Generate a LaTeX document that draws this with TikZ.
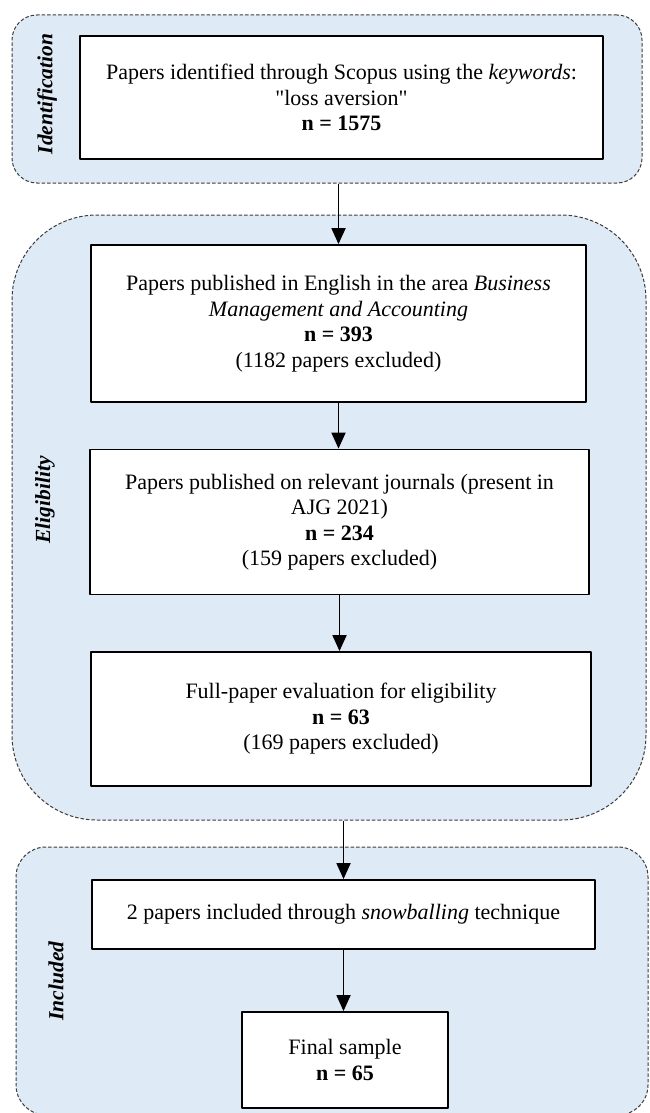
\documentclass[tikz,border=0pt]{standalone}
\usepackage{fontspec}
\setmainfont{Liberation Serif}
\usetikzlibrary{arrows.meta}
\definecolor{stagefill}{RGB}{222,234,246}
\definecolor{stageline}{RGB}{60,60,60}
\begin{document}
\begin{tikzpicture}[>={Triangle[width=14pt,length=16pt]},line join=round,x=1pt,y=-1pt,
		font=\fontsize{22}{25.5}\selectfont,
		stagereg/.style={draw=stageline,fill=stagefill,line width=1pt,dash pattern=on 3.5pt off 2pt,inner sep=0pt},
		paperbox/.style={draw,fill=white,line width=1.8pt,align=center,inner sep=0pt},
		stagelbl/.style={rotate=90,font=\fontsize{21.5}{25}\selectfont\bfseries\itshape},
		arr/.style={->,line width=1.8pt}]
			\useasboundingbox (0,0) rectangle (649,1113);
			\node[stagereg,rounded corners=25pt,minimum width=630pt,minimum height=168pt] (idreg) at (327,99) {};
			\node[stagereg,rounded corners=85pt,minimum width=634pt,minimum height=605pt] (elreg) at (329,517.5) {};
			\node[stagereg,rounded corners=30pt,minimum width=632pt,minimum height=268pt] (increg) at (332,981) {};
			\node[stagelbl] (idlbl) at (47,94) {Identification};
			\node[stagelbl] (ellbl) at (45,500) {Eligibility};
			\node[stagelbl] (inclbl) at (56,981) {Included};
			\node[paperbox,minimum width=523pt,minimum height=123pt] (b1) at (341.5,97.5)
			{Papers identified through Scopus using the \textit{keywords}:\\\textquotedbl loss aversion\textquotedbl\\\textbf{n = 1575}};
			\node[paperbox,minimum width=495pt,minimum height=157pt] (b2) at (338.5,323.5)
			{Papers published in English in the area \textit{Business}\\\textit{Management and Accounting}\\\textbf{n = 393}\\(1182 papers excluded)};
			\node[paperbox,minimum width=499pt,minimum height=145pt] (b3) at (339.5,522)
			{Papers published on relevant journals (present in\\AJG 2021)\\\textbf{n = 234}\\(159 papers excluded)};
			\node[paperbox,minimum width=500pt,minimum height=134pt] (b4) at (341,719)
			{Full-paper evaluation for eligibility\\\textbf{n = 63}\\(169 papers excluded)};
			\node[paperbox,minimum width=503pt,minimum height=69pt] (b5) at (343.5,914.5)
			{2 papers included through \textit{snowballing} technique};
			\node[paperbox,minimum width=206pt,minimum height=96pt] (b6) at (345,1060)
			{Final sample\\\textbf{n = 65}};
			\draw[arr] (b2.north |- idreg.south) -- (b2.north);
			\draw[arr] (b2.south) -- (b2.south |- b3.north);
			\draw[arr] (b3.south) -- (b3.south |- b4.north);
			\draw[arr] (b5.north |- elreg.south) -- (b5.north);
			\draw[arr] (b5.south) -- (b5.south |- b6.north);
	\end{tikzpicture}
\end{document}
